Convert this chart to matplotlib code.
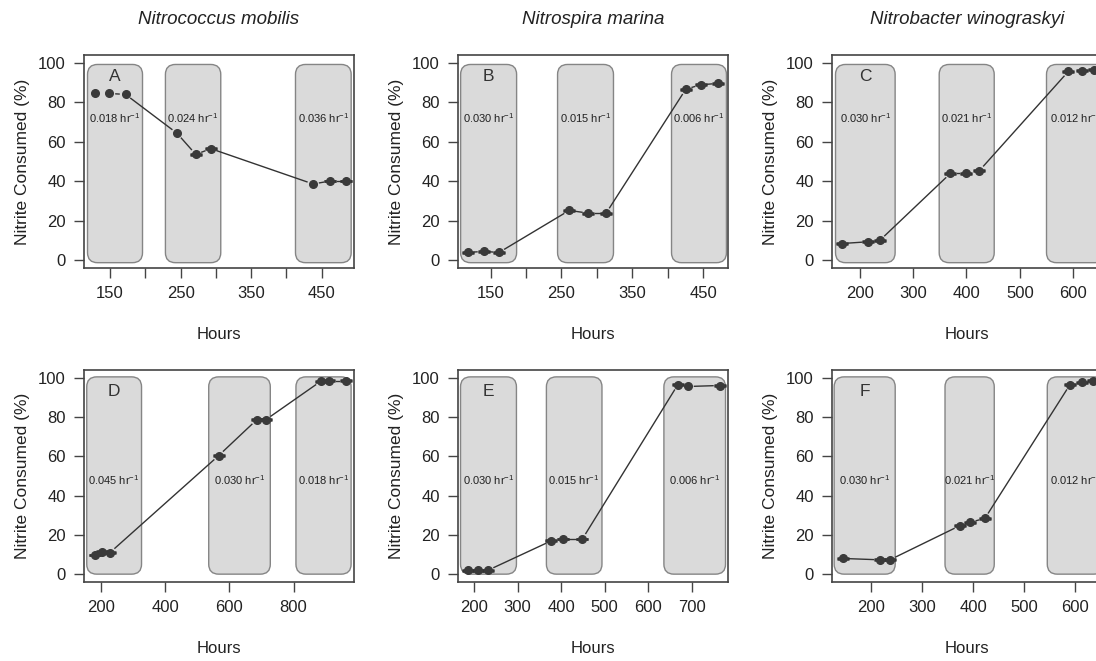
import numpy as np
import matplotlib
matplotlib.use('Agg')
import matplotlib.pyplot as plt
from matplotlib.patches import FancyBboxPatch

plt.rcParams['font.family'] = ['Liberation Sans', 'DejaVu Sans']
plt.rcParams['mathtext.default'] = 'regular'

species = ['Nitrococcus mobilis', 'Nitrospira marina', 'Nitrobacter winograskyi']
letters = ['A', 'B', 'C', 'D', 'E', 'F']

# hours and % nitrite consumed, per panel
hours_A = [128, 149, 172, 245, 271.5, 293, 438, 462, 485]
cons_A = [84.5, 84.5, 84.0, 64.3, 53.6, 56.5, 38.6, 40.1, 40.1]
err_A = [0, 0, 0, 0, 0.2, 0.2, 0, 0.2, 0.2]
hours_B = [118, 140, 162, 261, 288, 313, 425.5, 446.6, 471]
cons_B = [3.9, 4.4, 3.9, 25.2, 23.8, 23.8, 86.7, 88.9, 89.6]
err_B = [0.2] * 9
hours_C = [166, 216, 238, 370, 399, 424, 591, 616, 639]
cons_C = [8.4, 9.3, 10.1, 44.0, 44.0, 45.3, 95.7, 96.1, 96.6]
err_C = [0.2] * 9
hours_D = [181, 205, 229, 567, 685, 713, 885, 911, 962]
cons_D = [9.8, 11.4, 11.0, 60.4, 78.6, 78.6, 98.3, 98.5, 98.5]
err_D = [0.2] * 9
hours_E = [186, 209, 232, 377.5, 403, 448.6, 668, 691, 763.5]
cons_E = [2.0, 2.0, 2.0, 17.0, 17.9, 17.9, 96.6, 95.6, 96.1]
err_E = [0.2, 0.2, 0.2, 0.2, 0.2, 0.2, 0.2, 0, 0.2]
hours_F = [144.6, 217.6, 237.2, 374, 393.7, 423, 589.5, 613.7, 635.2]
cons_F = [8.0, 7.3, 7.3, 24.7, 26.4, 28.4, 96.6, 97.8, 98.6]
err_F = [0.2] * 9

# shaded dilution-rate periods (start, end hours) and their rates
periods_A = [(118, 196), (228.5, 307), (413, 492)]
periods_B = [(107.7, 186.7), (244.5, 323.4), (405.3, 482.8)]
periods_C = [(154.6, 266.3), (348.9, 452), (550, 660)]
periods_D = [(156.5, 327), (536, 727.6), (807.4, 979)]
periods_E = [(168.8, 297.2), (366, 493.6), (635.8, 777.3)]
periods_F = [(128.2, 247.6), (345, 441.3), (545, 655)]
rates_A = ['0.018', '0.024', '0.036']
rates_B = ['0.030', '0.015', '0.006']
rates_C = ['0.030', '0.021', '0.012']
rates_D = ['0.045', '0.030', '0.018']
rates_E = ['0.030', '0.015', '0.006']
rates_F = ['0.030', '0.021', '0.012']

xlims = [(113, 496), (104, 485), (148, 654), (148, 988), (163, 783), (124, 652)]
xticks = [np.arange(150, 451, 50), np.arange(150, 451, 50), np.arange(200, 601, 100),
          np.arange(200, 801, 200), np.arange(200, 701, 100), np.arange(200, 601, 100)]
xlabels_shown = [[150, 250, 350, 450], [150, 250, 350, 450], None, None, None, None]

panels = [
    (hours_A, cons_A, err_A, periods_A, rates_A),
    (hours_B, cons_B, err_B, periods_B, rates_B),
    (hours_C, cons_C, err_C, periods_C, rates_C),
    (hours_D, cons_D, err_D, periods_D, rates_D),
    (hours_E, cons_E, err_E, periods_E, rates_E),
    (hours_F, cons_F, err_F, periods_F, rates_F),
]

W, H = 1096, 661
fig = plt.figure(figsize=(W / 100, H / 100), dpi=100)

col_left = [84, 458, 832]
row_box = [(55, 268), (370, 582)]
box_w = 270
rect_y = [(-1.3, 99.2), (0.0, 100.5)]
rate_y = [72, 48]
dark = '#333333'

for i, (hrs, cons, err, periods, rates) in enumerate(panels):
    r, c = divmod(i, 3)
    top, bot = row_box[r]
    ax = fig.add_axes([col_left[c] / W, 1 - bot / H, box_w / W, (bot - top) / H])
    ax.set_xlim(*xlims[i])
    ax.set_ylim(-4, 104)
    ax.set_yticks([0, 20, 40, 60, 80, 100])
    ax.set_xticks(xticks[i])
    if xlabels_shown[i] is not None:
        ax.set_xticklabels([str(t) if t in xlabels_shown[i] else '' for t in xticks[i]])
    ax.tick_params(direction='out', length=7, width=1, colors='#444444',
                   labelcolor='#222222', labelsize=12, pad=6)
    for s in ax.spines.values():
        s.set_color('#444444')
        s.set_linewidth(1.2)
    ax.set_xlabel('Hours', fontsize=12, labelpad=19, color='#222222')
    ax.set_ylabel('Nitrite Consumed (%)', fontsize=12.5, labelpad=6, color='#222222')

    # pixel scale for rounded corners
    x0, x1 = xlims[i]
    px_x = box_w / (x1 - x0)
    px_y = (bot - top) / 108.0
    rad = 10
    ylo, yhi = rect_y[r]
    for (a, b), rate in zip(periods, rates):
        patch = FancyBboxPatch((a, ylo), b - a, yhi - ylo,
                               boxstyle='round,pad=0,rounding_size=%f' % (rad / px_x),
                               mutation_aspect=px_x / px_y,
                               facecolor='#dadada', edgecolor='#858585', linewidth=1,
                               zorder=1)
        ax.add_patch(patch)
        ax.text((a + b) / 2, rate_y[r], rate + ' hr$^{-1}$', ha='center', va='center',
                fontsize=8, color='#222222', zorder=4)
    a, b = periods[0]
    ax.text((a + b) / 2, 93, letters[i], ha='center', va='center', fontsize=12.5,
            color='#333333', zorder=4)

    # lines between points with gaps (type = "b")
    pts = ax.transData.transform(np.column_stack([hrs, cons]))
    gap = 6.5
    inv = ax.transData.inverted()
    for p0, p1 in zip(pts[:-1], pts[1:]):
        d = p1 - p0
        L = np.hypot(*d)
        if L > 2 * gap + 2:
            u = d / L
            q = inv.transform(np.array([p0 + u * gap, p1 - u * gap]))
            ax.plot(q[:, 0], q[:, 1], color=dark, lw=1, zorder=2)

    hrs_a = np.array(hrs)
    cons_a = np.array(cons)
    err_a = np.array(err)
    m = err_a > 0
    ax.errorbar(hrs_a[m], cons_a[m], yerr=err_a[m], fmt='none', ecolor=dark,
                elinewidth=1, capsize=4, capthick=1.8, zorder=3)
    ax.plot(hrs_a, cons_a, 'o', color='#3a3a3a', markersize=5.5, zorder=3)

for c, name in enumerate(species):
    fig.text((col_left[c] + box_w / 2) / W, 1 - 20 / H, name, ha='center', va='center',
             fontsize=13.5, style='italic', color='#222222')

fig.savefig('out.png', dpi=100)
